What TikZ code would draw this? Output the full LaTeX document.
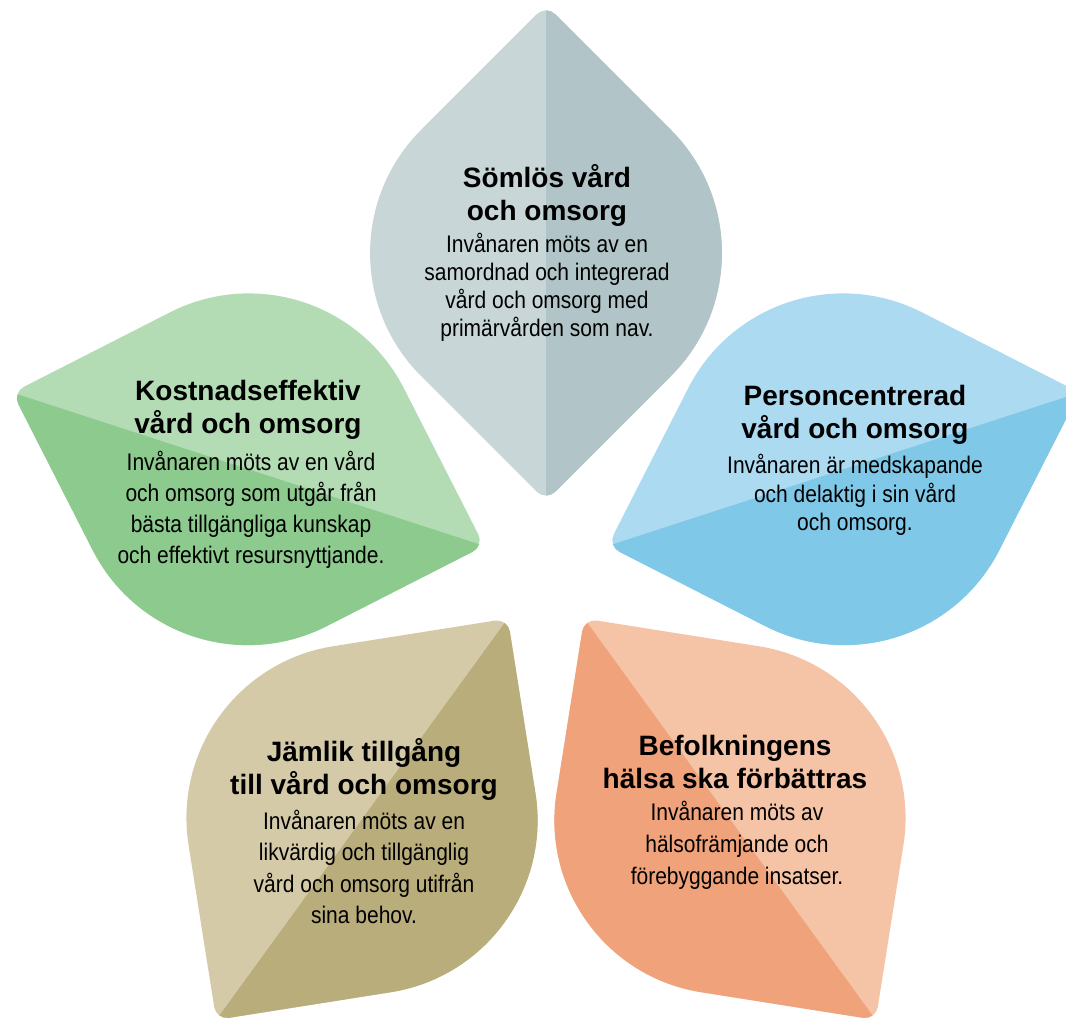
\documentclass[tikz,border=0pt]{standalone}
\usepackage{fontspec}
\setmainfont{Liberation Sans}
\newfontfamily\narrowfont[FakeStretch=0.875]{Liberation Sans}
\definecolor{topL}{HTML}{C8D6D8}
\definecolor{topD}{HTML}{B1C5C8}
\definecolor{rgtL}{HTML}{ABDAF1}
\definecolor{rgtD}{HTML}{7FC8E8}
\definecolor{orgL}{HTML}{F5C3A6}
\definecolor{orgD}{HTML}{F0A27A}
\definecolor{oliL}{HTML}{D4CAA8}
\definecolor{oliD}{HTML}{B9AD7B}
\definecolor{grnL}{HTML}{B3DCB4}
\definecolor{grnD}{HTML}{8CCA8D}
\def\pa{65}
\def\pb{561}
\def\pmid{313}
\def\phalf{248}
\def\rt{13}
\def\rs{174}
\newcommand\petalpath{%
({\pa+\rt/sqrt(2)},{\rt/sqrt(2)}) -- ({\pmid-\rs/sqrt(2)},{\phalf-\rs/sqrt(2)})
 arc[start angle=135,end angle=45,radius=\rs pt]
 -- ({\pb-\rt/sqrt(2)},{\rt/sqrt(2)})
 arc[start angle=45,end angle=-45,radius=\rt pt]
 -- ({\pmid+\rs/sqrt(2)},{-\phalf+\rs/sqrt(2)})
 arc[start angle=-45,end angle=-135,radius=\rs pt]
 -- ({\pa+\rt/sqrt(2)},{-\rt/sqrt(2)})
 arc[start angle=-135,end angle=-225,radius=\rt pt] -- cycle}
\newcommand\petal[4]{%
 \begin{scope}[shift={(546,455)}, rotate=#1]
  \fill[#2] \petalpath;
  \begin{scope}
   \clip \petalpath;
   \fill[#3] (0,0) rectangle (620,{#4*320});
  \end{scope}
 \end{scope}}
\tikzset{
 ttl/.style={align=center, inner sep=0pt, font=\fontsize{28}{33}\selectfont\bfseries},
 bdy/.style={align=center, inner sep=0pt, font=\narrowfont\fontsize{24}{#1}\selectfont},
 bdy/.default=28.5
}
\begin{document}
\begin{tikzpicture}[x=1pt,y=1pt]
\useasboundingbox (0,0) rectangle (1066,1021);
\clip (0,0) rectangle (1066,1021);
\fill[white] (0,0) rectangle (1066,1021);
\petal{90}{topL}{topD}{-1}
\petal{18}{rgtL}{rgtD}{-1}
\petal{-54}{orgL}{orgD}{-1}
\petal{-126}{oliL}{oliD}{1}
\petal{162}{grnL}{grnD}{1}
% top
\node[ttl] (t1) at (547,{1021-195}) {Sömlös vård\\och omsorg};
\node[bdy=28] (b1) at (547,{1021-287}) {Invånaren möts av en\\samordnad och integrerad\\vård och omsorg med\\primärvården som nav.};
% right
\node[ttl] (t2) at (855,{1021-415}) {Personcentrerad\\vård och omsorg};
\node[bdy=28.5] (b2) at (855,{1021-495}) {Invånaren är medskapande\\och delaktig i sin vård\\och omsorg.};
% left
\node[ttl] (t3) at (248,{1021-410}) {Kostnadseffektiv\\vård och omsorg};
\node[bdy=31] (b3) at (251,{1021-510}) {Invånaren möts av en vård\\och omsorg som utgår från\\bästa tillgängliga kunskap\\och effektivt resursnyttjande.};
% olive
\node[ttl] (t4) at (364,{1021-769}) {Jämlik tillgång\\till vård och omsorg};
\node[bdy=31.5] (b4) at (364,{1021-867}) {Invånaren möts av en\\likvärdig och tillgänglig\\vård och omsorg utifrån\\sina behov.};
% orange
\node[ttl] (t5) at (735,{1021-762}) {Befolkningens\\hälsa ska förbättras};
\node[bdy=32] (b5) at (737,{1021-845}) {Invånaren möts av\\hälsofrämjande och\\förebyggande insatser.};
\end{tikzpicture}
\end{document}
